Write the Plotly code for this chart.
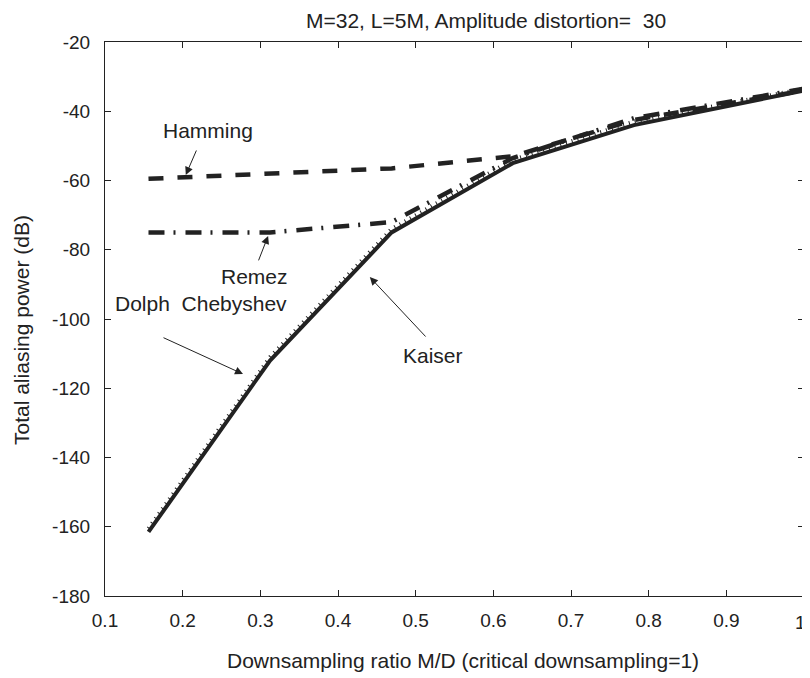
import plotly.graph_objects as go

# Data
ratio = [0.156, 0.3125, 0.469, 0.625, 0.781, 1.0]
kaiser = [-161.5, -112.0, -75.0, -55.0, -44.0, -34.0]
dolph = [-160.5, -111.0, -74.0, -54.0, -43.0, -33.5]
hamming = [-59.5, -58.0, -56.5, -53.0, -42.5, -34.0]
remez = [-75.0, -75.0, -72.0, -53.5, -42.0, -33.5]

x_ticks = [0.1, 0.2, 0.3, 0.4, 0.5, 0.6, 0.7, 0.8, 0.9, 1.0]
x_ticklabels = ["0.1", "0.2", "0.3", "0.4", "0.5", "0.6", "0.7", "0.8", "0.9", "1"]
y_ticks = [-20, -40, -60, -80, -100, -120, -140, -160, -180]
y_ticklabels = ["-20", "-40", "-60", "-80", "-100", "-120", "-140", "-160", "-180"]

FONT = "Liberation Sans, Arial, sans-serif"
TXT = 21
TICK = 19
INK = "#222"

fig = go.Figure()
fig.add_trace(go.Scatter(x=ratio, y=dolph, mode="lines", name="Dolph Chebyshev",
                         line=dict(color=INK, width=4, dash="1px,5px")))
fig.add_trace(go.Scatter(x=ratio, y=hamming, mode="lines", name="Hamming",
                         line=dict(color=INK, width=4.5, dash="15px,14px")))
fig.add_trace(go.Scatter(x=ratio, y=remez, mode="lines", name="Remez",
                         line=dict(color=INK, width=4.5, dash="16px,9px,2px,10px")))
fig.add_trace(go.Scatter(x=ratio, y=kaiser, mode="lines", name="Kaiser",
                         line=dict(color=INK, width=4)))

def arrow(tip, tail):
    return dict(x=tip[0], y=tip[1], ax=tail[0], ay=tail[1], xref="x", yref="y",
                axref="x", ayref="y", text="", showarrow=True, arrowhead=2,
                arrowsize=1.6, arrowwidth=1, arrowcolor=INK)

def label(pos, txt):
    return dict(x=pos[0], y=pos[1], xref="x", yref="y", text=txt, showarrow=False,
                font=dict(family=FONT, size=TXT, color=INK))

# page body has an 8px margin; plot area target in window pixels: 105..804 x 42..596
L, T = 97, 34
W, H = 802, 670
PW, PH = 699, 554

def px(xw):
    return (xw - 8 - L) / PW

def py(yw):
    return 1 - (yw - 8 - T) / PH

# the last x tick label sits at the very right edge: draw it right-aligned
shown_ticklabels = x_ticklabels[:-1] + [""]

annotations = [
    arrow((0.204, -58.4), (0.2185, -50.9)), label((0.2326, -45.7), "Hamming"),
    arrow((0.31, -76.0), (0.297, -83.5)), label((0.293, -87.6), "Remez"),
    arrow((0.2777, -115.9), (0.1734, -105.2)), label((0.2236, -95.4), "Dolph  Chebyshev"),
    arrow((0.441, -87.9), (0.5146, -105.5)), label((0.522, -110.4), "Kaiser"),
    dict(x=px(486), y=py(21), xref="paper", yref="paper",
         text="M=32, L=5M, Amplitude distortion=  30", showarrow=False,
         xanchor="center", yanchor="middle", font=dict(family=FONT, size=TXT, color=INK)),
    dict(x=px(463), y=py(660), xref="paper", yref="paper",
         text="Downsampling ratio M/D (critical downsampling=1)", showarrow=False,
         xanchor="center", yanchor="middle", font=dict(family=FONT, size=TXT, color=INK)),
    dict(x=px(21), y=py(330), xref="paper", yref="paper", textangle=-90,
         text="Total aliasing power (dB)", showarrow=False,
         xanchor="center", yanchor="middle", font=dict(family=FONT, size=TXT, color=INK)),
    dict(x=px(808), y=py(622), xref="paper", yref="paper", text=x_ticklabels[-1],
         showarrow=False, xanchor="right", yanchor="middle",
         font=dict(family=FONT, size=TICK, color=INK)),
]

fig.update_layout(
    width=W, height=H,
    margin=dict(l=L, r=W - L - PW, t=T, b=H - T - PH, autoexpand=False),
    paper_bgcolor="white", plot_bgcolor="white",
    showlegend=False,
    font=dict(family=FONT, size=TICK, color=INK),
    annotations=annotations,
)
fig.update_xaxes(range=[0.1, 1.0], tickvals=x_ticks, ticktext=shown_ticklabels,
                 ticks="inside", ticklen=6, tickcolor=INK, showline=True,
                 linecolor=INK, linewidth=1.2, mirror="ticks", showgrid=False,
                 zeroline=False, tickfont=dict(size=TICK), ticklabelstandoff=7,
                 automargin=False)
fig.update_yaxes(range=[-180, -20], tickvals=y_ticks, ticktext=y_ticklabels,
                 ticks="inside", ticklen=6, tickcolor=INK, showline=True,
                 linecolor=INK, linewidth=1.2, mirror="ticks", showgrid=False,
                 zeroline=False, tickfont=dict(size=TICK), ticklabelstandoff=10,
                 automargin=False)

fig.write_html("out.html")
